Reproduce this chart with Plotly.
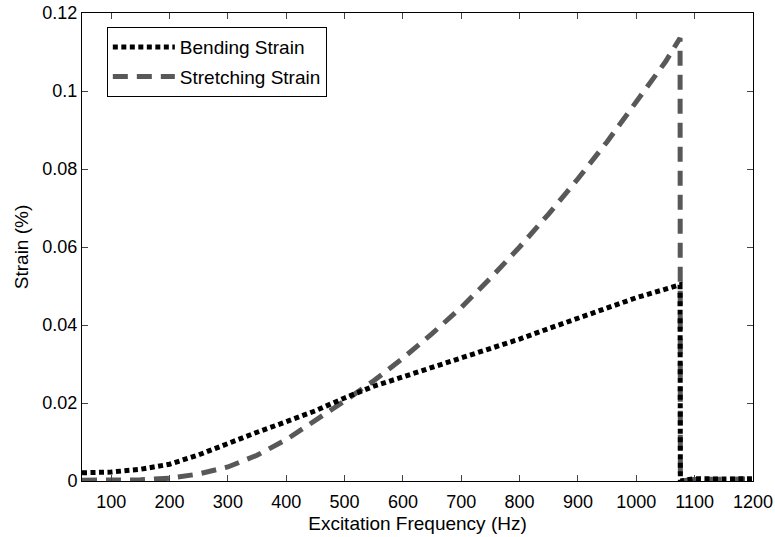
import plotly.graph_objects as go

freq = [50, 100, 150, 200, 250, 300, 350, 400, 450, 500, 550, 600, 650, 700, 750,
        800, 850, 900, 950, 1000, 1050, 1075, 1075.5, 1100, 1150, 1200]
bending = [0.0021, 0.0023, 0.0030, 0.0043, 0.0067, 0.0097, 0.0125, 0.0152, 0.0180,
           0.0213, 0.0243, 0.0267, 0.0291, 0.0315, 0.0339, 0.0364, 0.0391, 0.0418,
           0.0445, 0.0470, 0.0492, 0.0503, 0.0, 0.0006, 0.0005, 0.0006]
stretching = [0.0002, 0.0002, 0.0003, 0.0007, 0.0018, 0.0036, 0.0066, 0.0106, 0.0155,
              0.0205, 0.0257, 0.0315, 0.0378, 0.0445, 0.0520, 0.0600, 0.0685, 0.0775,
              0.0870, 0.0970, 0.1075, 0.1136, 0.0, 0.0004, 0.0004, 0.0005]

x_ticks = [100, 200, 300, 400, 500, 600, 700, 800, 900, 1000, 1100, 1200]
y_ticks = [0, 0.02, 0.04, 0.06, 0.08, 0.1, 0.12]
y_labels = ["0", "0.02", "0.04", "0.06", "0.08", "0.1", "0.12"]

font = "Liberation Sans, Arial, sans-serif"

fig = go.Figure()
fig.add_trace(go.Scatter(
    x=freq, y=stretching, mode="lines", name="Stretching Strain",
    legendgroup="s", legendrank=2,
    line=dict(color="#585858", width=5, dash="15px,9px"),
))
fig.add_trace(go.Scatter(
    x=freq, y=bending, mode="lines", name="Bending Strain",
    legendgroup="b", legendrank=1,
    line=dict(color="black", width=5, dash="5px,3.5px"),
))

fig.update_layout(
    width=775, height=537,
    margin=dict(l=82, r=22, t=13, b=56),
    paper_bgcolor="white", plot_bgcolor="white",
    font=dict(family=font, size=16, color="black"),
    showlegend=True,
    legend=dict(
        x=0.037, y=0.97, xanchor="left", yanchor="top",
        bordercolor="black", borderwidth=1, bgcolor="white",
        font=dict(size=19), traceorder="grouped",
        tracegroupgap=2, itemwidth=62,
    ),
    xaxis=dict(
        range=[50, 1200], tickvals=x_ticks, ticks="inside", ticklen=6,
        showline=True, linecolor="black", linewidth=1, mirror="ticks",
        showgrid=False, zeroline=False, automargin=False,
        ticklabelstandoff=4,
        title=dict(text="Excitation Frequency (Hz)", standoff=6, font=dict(size=19)),
        tickfont=dict(size=18),
    ),
    yaxis=dict(
        range=[0, 0.12], tickvals=y_ticks, ticktext=y_labels, ticks="inside", ticklen=6,
        showline=True, linecolor="black", linewidth=1, mirror="ticks",
        showgrid=False, zeroline=False, automargin=False,
        title=dict(text="Strain (%)", standoff=8, font=dict(size=19)),
        tickfont=dict(size=18),
    ),
)

fig.write_html("out.html")
